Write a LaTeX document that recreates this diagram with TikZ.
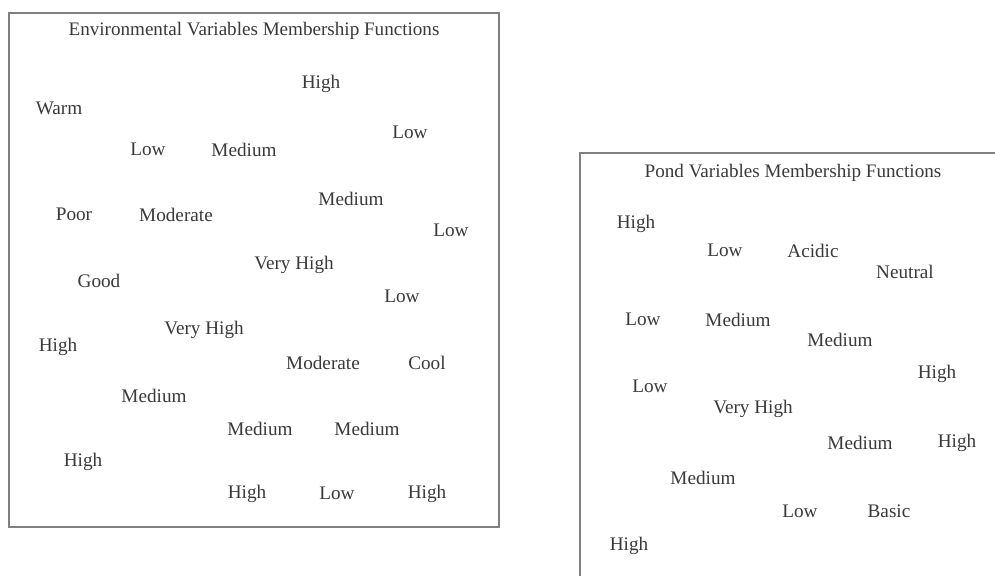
\documentclass[tikz,border=0pt]{standalone}
\usepackage{fontspec}
\setmainfont{Liberation Serif}
\definecolor{txt}{HTML}{3A3A3A}
\definecolor{frame}{HTML}{808080}
\tikzset{
  lbl/.style={text=txt, inner sep=0pt, yshift=-1.5pt, font=\fontsize{19.2}{22}\selectfont},
  ttl/.style={text=txt, inner sep=0pt, yshift=-1pt, font=\fontsize{19.1}{22}\selectfont},
  boxline/.style={draw=frame, line width=1.6pt}
}
\begin{document}
\begin{tikzpicture}[x=1pt,y=-1pt]
\useasboundingbox (0,0) rectangle (995,576);
\fill[white] (0,0) rectangle (995,576);
% Environmental box
\draw[boxline] (9,13) rectangle (499,527);
\node[ttl] (et) at (254,30) {Environmental Variables Membership Functions};
\node[lbl] (e1) at (321,82) {High};
\node[lbl] (e2) at (59,107) {Warm};
\node[lbl] (e3) at (410,131) {Low};
\node[lbl] (e4) at (148,148) {Low};
\node[lbl] (e5) at (244,148) {Medium};
\node[lbl] (e6) at (351,197) {Medium};
\node[lbl] (e7) at (74,213) {Poor};
\node[lbl] (e8) at (176,213) {Moderate};
\node[lbl] (e9) at (451,229) {Low};
\node[lbl] (e10) at (294,263) {Very High};
\node[lbl] (e11) at (99,279) {Good};
\node[lbl] (e12) at (402,295) {Low};
\node[lbl] (e13) at (204,328) {Very High};
\node[lbl] (e14) at (58,345) {High};
\node[lbl] (e15) at (323,361) {Moderate};
\node[lbl] (e16) at (427,361) {Cool};
\node[lbl] (e17) at (154,394) {Medium};
\node[lbl] (e18) at (260,427) {Medium};
\node[lbl] (e19) at (367,427) {Medium};
\node[lbl] (e20) at (83,460) {High};
\node[lbl] (e21) at (247,492) {High};
\node[lbl] (e22) at (337,492) {Low};
\node[lbl] (e23) at (427,492) {High};
% Pond box (cut off at right and bottom)
\coordinate (ptr) at (995,153);
\coordinate (ptl) at (580,153);
\coordinate (pbl) at (580,576);
\draw[boxline] (ptr) -- (ptl) -- (pbl);
\node[ttl] (pt) at (793,172) {Pond Variables Membership Functions};
\node[lbl] (p1) at (636,222) {High};
\node[lbl] (p2) at (725,249) {Low};
\node[lbl] (p3) at (813,249) {Acidic};
\node[lbl] (p4) at (905,270) {Neutral};
\node[lbl] (p5) at (643,318) {Low};
\node[lbl] (p6) at (738,318) {Medium};
\node[lbl] (p7) at (840,338) {Medium};
\node[lbl] (p8) at (937,372) {High};
\node[lbl] (p9) at (650,385) {Low};
\node[lbl] (p10) at (753,407) {Very High};
\node[lbl] (p11) at (860,441) {Medium};
\node[lbl] (p12) at (957,441) {High};
\node[lbl] (p13) at (703,476) {Medium};
\node[lbl] (p14) at (800,510) {Low};
\node[lbl] (p15) at (889,510) {Basic};
\node[lbl] (p16) at (629,544) {High};
\end{tikzpicture}
\end{document}
